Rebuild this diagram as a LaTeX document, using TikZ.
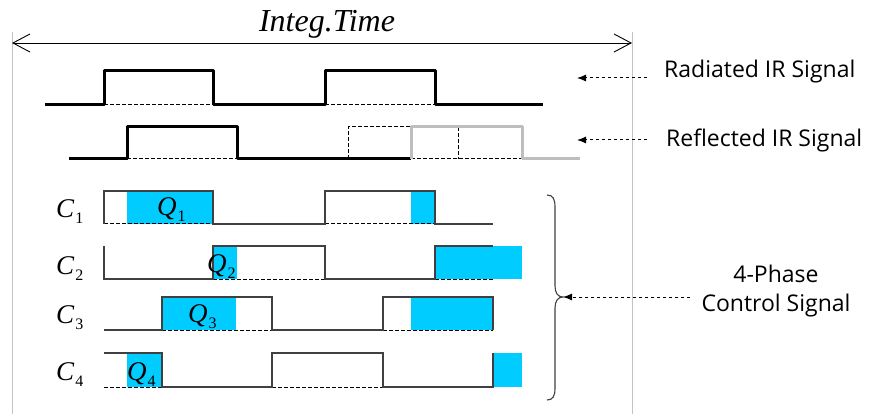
\documentclass[tikz,border=0pt]{standalone}
\usepackage{fontspec}
\setmainfont{Liberation Serif}
\newfontfamily\lblsans{Open Sans}
\usetikzlibrary{arrows.meta}
\definecolor{qcyan}{RGB}{0,204,255}
\definecolor{sigdark}{RGB}{64,64,64}
\definecolor{gridgrey}{RGB}{195,195,195}
\definecolor{echogrey}{RGB}{190,190,190}
\newcommand\symlab[2]{\textit{#1}\kern1pt\raisebox{-6pt}{\fontsize{16}{16}\selectfont #2}}
\tikzset{
  thicksig/.style={line width=3pt, line join=round, black},
  echosig/.style={line width=3pt, line join=round, echogrey},
  ctrlsig/.style={line width=1.2pt, sigdark},
  dashln/.style={line width=1pt, black, dash pattern=on 4pt off 2pt},
  qfill/.style={fill=qcyan, draw=none},
  vguide/.style={line width=1pt, gridgrey},
  lblarrow/.style={line width=1pt, black, dash pattern=on 3.5pt off 2.5pt, -{Latex[length=9pt,width=7pt]}},
  sanslab/.style={font=\lblsans\fontsize{23}{29}\selectfont, inner sep=0pt},
  serlab/.style={font=\fontsize{27}{27}\selectfont, inner sep=0pt, anchor=base west},
  bracest/.style={line width=1.1pt, sigdark},
}
\begin{document}
\begin{tikzpicture}[x=1pt,y=-1pt]
\useasboundingbox (0,0) rectangle (870,414);
% guides
\coordinate (gLt) at (12,32); \coordinate (gLb) at (12,414);
\coordinate (gRt) at (632,32); \coordinate (gRb) at (632,414);
\draw[vguide] (gLt) -- (gLb);
\draw[vguide] (gRt) -- (gRb);
% integration time arrow
\node[font=\itshape\fontsize{32}{32}\selectfont, inner sep=0pt, anchor=base] (integ) at (327,32) {Integ.Time};
\coordinate (aL) at (12,43); \coordinate (aR) at (632,43);
\draw[line width=0.9pt, {Straight Barb[length=17pt,width=18pt,line width=0.9pt]}-{Straight Barb[length=17pt,width=18pt,line width=0.9pt]}] (aL) -- (aR);
% radiated signal
\draw[dashln] (104,105) -- (213,105);
\draw[dashln] (325,105) -- (435,105);
\draw[thicksig] (45,105) -- (104,105) -- (104,71) -- (213,71) -- (213,105) -- (325,105) -- (325,71) -- (435,71) -- (435,105) -- (543,105);
% reflected signal
\draw[dashln] (127,159) -- (237,159);
\draw[dashln] (348,159) -- (348,127) -- (411,127);
\draw[dashln] (411,159) -- (522,159);
\draw[dashln] (458,127) -- (458,159);
\draw[thicksig] (69,159) -- (127,159) -- (127,127) -- (237,127) -- (237,159) -- (411,159);
\draw[echosig] (411,159) -- (411,127) -- (522,127) -- (522,159) -- (580,159);
% C1
\fill[qfill] (127,191) rectangle (213,224);
\fill[qfill] (411,191) rectangle (435,224);
\draw[dashln] (104,224) -- (213,224);
\draw[dashln] (325,224) -- (435,224);
\draw[ctrlsig] (104,224) -- (104,191) -- (213,191) -- (213,224) -- (325,224) -- (325,191) -- (435,191) -- (435,224) -- (493,224);
% C2
\fill[qfill] (213,246) rectangle (237,279);
\fill[qfill] (435,246) rectangle (522,279);
\draw[dashln] (213,279) -- (325,279);
\draw[dashln] (435,279) -- (493,279);
\draw[ctrlsig] (104,246) -- (104,279) -- (213,279) -- (213,246) -- (325,246) -- (325,279) -- (435,279) -- (435,246) -- (493,246);
% C3
\fill[qfill] (162,297) rectangle (236,330);
\fill[qfill] (411,297) rectangle (493,330);
\draw[dashln] (162,330) -- (272,330);
\draw[dashln] (383,330) -- (493,330);
\draw[ctrlsig] (104,330) -- (162,330) -- (162,297) -- (272,297) -- (272,330) -- (383,330) -- (383,297) -- (493,297) -- (493,330);
% C4
\fill[qfill] (127,353) rectangle (162,387);
\fill[qfill] (493,353) rectangle (522,387);
\draw[dashln] (104,387) -- (162,387);
\draw[dashln] (272,387) -- (383,387);
\draw[ctrlsig] (104,353) -- (162,353) -- (162,387) -- (272,387) -- (272,353) -- (383,353) -- (383,387) -- (493,387) -- (493,353);
% C labels
\node[serlab] (c1) at (56,218) {\symlab{C}{1}};
\node[serlab] (c2) at (56,274) {\symlab{C}{2}};
\node[serlab] (c3) at (56,323) {\symlab{C}{3}};
\node[serlab] (c4) at (56,380) {\symlab{C}{4}};
% Q labels
\node[serlab] (q1) at (157,215) {\symlab{Q}{1}};
\node[serlab] (q2) at (207,272) {\symlab{Q}{2}};
\node[serlab] (q3) at (188,322) {\symlab{Q}{3}};
\node[serlab] (q4) at (127,380) {\symlab{Q}{4}};
% brace
\coordinate (btip) at (563,297);
\draw[bracest] (547,195) .. controls (553,195) and (555,199) .. (555,207) -- (555,286) .. controls (555,293) and (558,297) .. (btip) .. controls (558,297) and (555,301) .. (555,308) -- (555,388) .. controls (555,396) and (553,400) .. (547,400);
% right labels
\node[sanslab, anchor=base west] (rad) at (664,78) {Radiated IR Signal};
\node[sanslab, anchor=base west] (refl) at (666,147) {Reflected IR Signal};
\node[sanslab, align=center, anchor=center] (ctrl) at (776,291) {4-Phase\\Control Signal};
\coordinate (radS) at (647,78); \coordinate (radT) at (577,78);
\coordinate (refS) at (647,140); \coordinate (refT) at (577,140);
\coordinate (ctlS) at (690,297);
\draw[lblarrow] (radS) -- (radT);
\draw[lblarrow] (refS) -- (refT);
\draw[lblarrow] (ctlS) -- (btip);
\end{tikzpicture}
\end{document}
